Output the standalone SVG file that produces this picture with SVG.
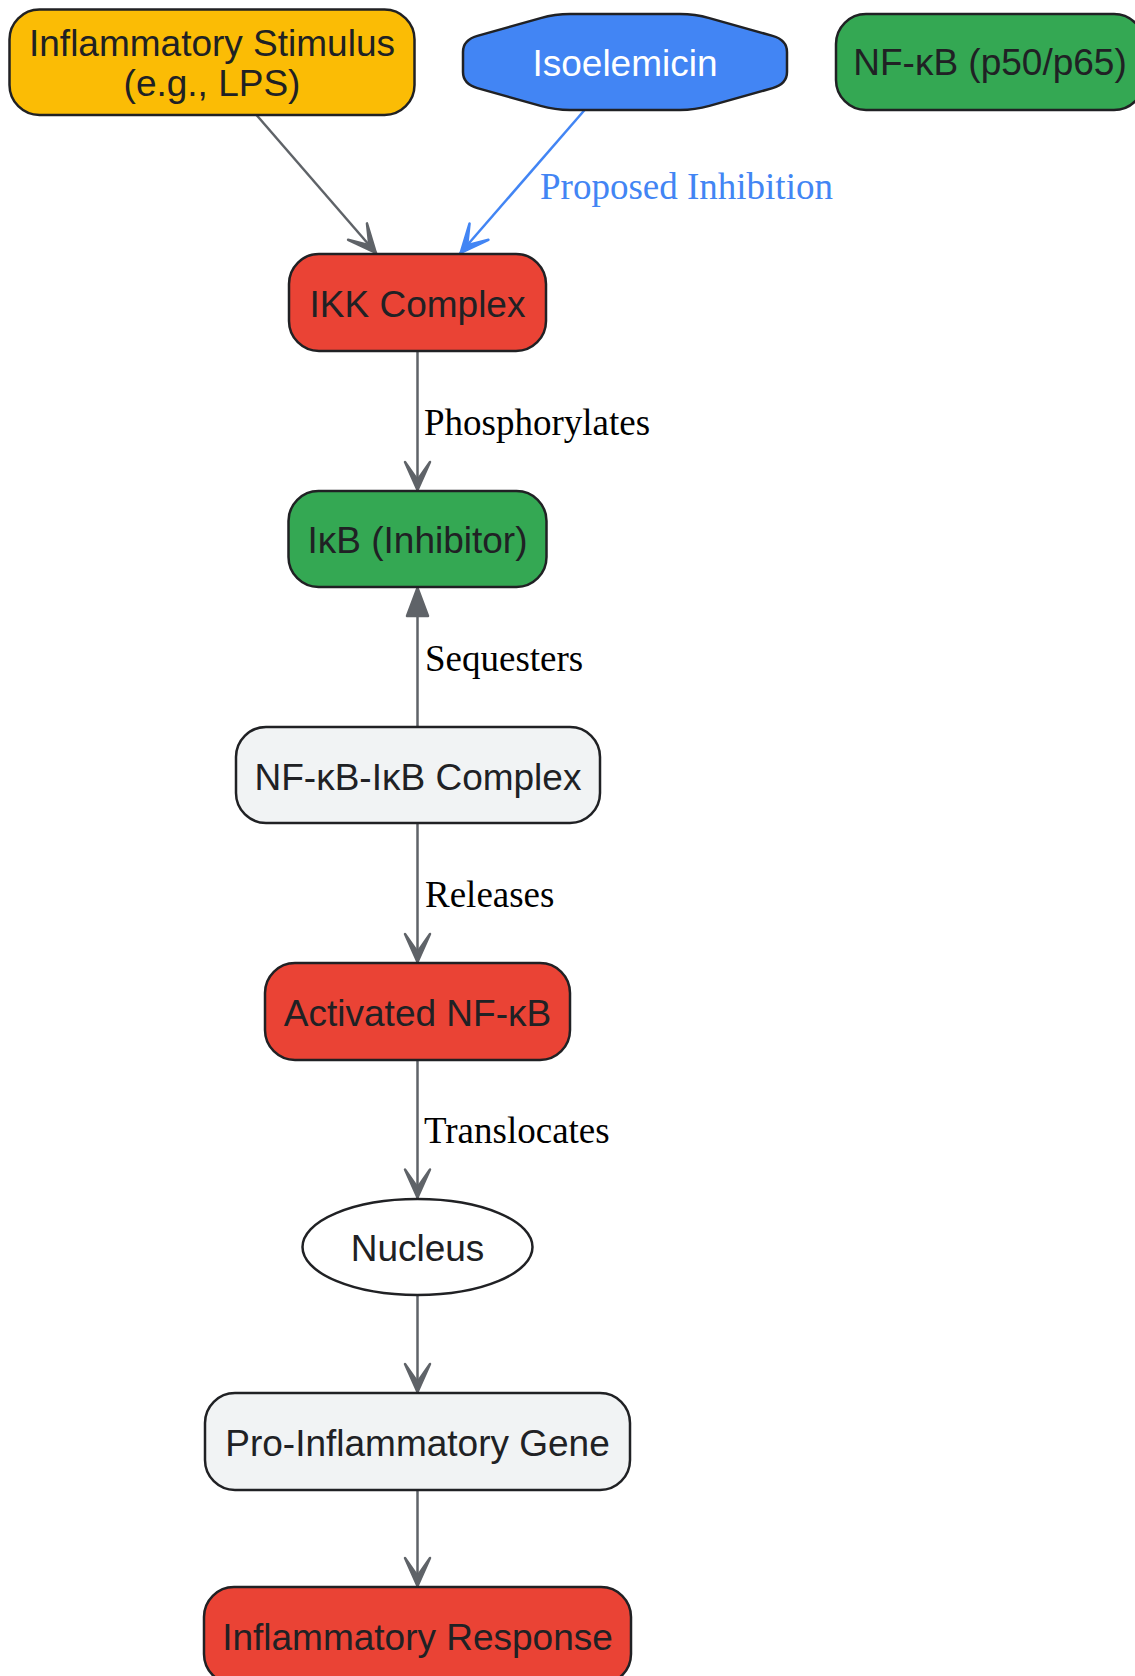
<svg xmlns="http://www.w3.org/2000/svg" width="1135" height="1676" viewBox="0 0 1135 1676">
<style>
  .node { stroke: #202124; stroke-width: 2.5; }
  .lbl { font-family: "Liberation Sans", Arial, sans-serif; font-size: 37px; fill: #202124; text-anchor: middle; }
  .elbl { font-family: "Liberation Serif", "Times New Roman", serif; font-size: 37px; fill: #000000; }
  .edge { stroke: #5F6368; stroke-width: 2.5; fill: none; }
  .edge-blue { stroke: #4285F4; stroke-width: 2.5; fill: none; }
</style>
<defs>
  <marker id="vee" viewBox="-32 -16 34 32" refX="0" refY="0" markerWidth="34" markerHeight="32" markerUnits="userSpaceOnUse" orient="auto">
    <path d="M-1,0 L-29,-12.5 L-11,0 L-29,12.5 Z" fill="#5F6368" stroke="#5F6368" stroke-width="2.5" stroke-linejoin="round"/>
  </marker>
  <marker id="vee-blue" viewBox="-32 -16 34 32" refX="0" refY="0" markerWidth="34" markerHeight="32" markerUnits="userSpaceOnUse" orient="auto">
    <path d="M-1,0 L-29,-12.5 L-11,0 L-29,12.5 Z" fill="#4285F4" stroke="#4285F4" stroke-width="2.5" stroke-linejoin="round"/>
  </marker>
  <marker id="tri" viewBox="-32 -14 34 28" refX="0" refY="0" markerWidth="34" markerHeight="28" markerUnits="userSpaceOnUse" orient="auto">
    <path d="M-1,0 L-29,-10.5 L-29,10.5 Z" fill="#5F6368" stroke="#5F6368" stroke-width="2.5" stroke-linejoin="round"/>
  </marker>
</defs>
<rect x="0" y="0" width="1135" height="1676" fill="#FFFFFF"/>

<g id="edges">
  <line class="edge" x1="256.5" y1="115" x2="376.5" y2="253.5" marker-end="url(#vee)"/>
  <line class="edge-blue" x1="584.6" y1="110" x2="460" y2="253.5" marker-end="url(#vee-blue)"/>
  <text class="elbl" x="540" y="199" style="fill:#4285F4">Proposed Inhibition</text>
  <line class="edge" x1="417.5" y1="351" x2="417.5" y2="491" marker-end="url(#vee)"/>
  <text class="elbl" x="424" y="435">Phosphorylates</text>
  <line class="edge" x1="417.5" y1="727" x2="417.5" y2="587" marker-end="url(#tri)"/>
  <text class="elbl" x="425" y="671">Sequesters</text>
  <line class="edge" x1="417.5" y1="823" x2="417.5" y2="963" marker-end="url(#vee)"/>
  <text class="elbl" x="425" y="907">Releases</text>
  <line class="edge" x1="417.5" y1="1060" x2="417.5" y2="1198.5" marker-end="url(#vee)"/>
  <text class="elbl" x="424" y="1142.5">Translocates</text>
  <line class="edge" x1="417.5" y1="1295" x2="417.5" y2="1393" marker-end="url(#vee)"/>
  <line class="edge" x1="417.5" y1="1490" x2="417.5" y2="1587" marker-end="url(#vee)"/>
</g>

<g id="stimulus">
  <rect class="node" x="9.5" y="9.5" width="405" height="105.5" rx="30" fill="#FBBC05"/>
  <text class="lbl" x="212" y="55.5">Inflammatory Stimulus</text>
  <text class="lbl" x="212" y="96">(e.g., LPS)</text>
</g>

<g id="isoelemicin">
  <path class="node" d="M477.4,35.9 L540.6,18.1 Q555,14 570,14 L680,14 Q695,14 709.4,18.1 L772.6,35.9 Q787,40 787,52 L787,72 Q787,84 772.6,88.1 L709.4,105.9 Q695,110 680,110 L570,110 Q555,110 540.6,105.9 L477.4,88.1 Q463,84 463,72 L463,52 Q463,40 477.4,35.9 Z" fill="#4285F4"/>
  <text class="lbl" x="625" y="76" style="fill:#FFFFFF">Isoelemicin</text>
</g>

<g id="nfkb">
  <rect class="node" x="836" y="14" width="308" height="96" rx="30" fill="#34A853"/>
  <text class="lbl" x="990" y="75">NF-κB (p50/p65)</text>
</g>

<g id="ikk">
  <rect class="node" x="289" y="254" width="257" height="97" rx="30" fill="#EA4335"/>
  <text class="lbl" x="417.5" y="317">IKK Complex</text>
</g>

<g id="ikb">
  <rect class="node" x="288.5" y="491" width="258" height="96" rx="30" fill="#34A853"/>
  <text class="lbl" x="417.5" y="553">IκB (Inhibitor)</text>
</g>

<g id="complex">
  <rect class="node" x="236" y="727" width="364" height="96" rx="30" fill="#F1F3F4"/>
  <text class="lbl" x="418" y="790">NF-κB-IκB Complex</text>
</g>

<g id="activated">
  <rect class="node" x="265" y="963" width="305" height="97" rx="30" fill="#EA4335"/>
  <text class="lbl" x="417.5" y="1025.5">Activated NF-κB</text>
</g>

<g id="nucleus">
  <ellipse class="node" cx="417.5" cy="1247" rx="115" ry="48" fill="#FFFFFF"/>
  <text class="lbl" x="417.5" y="1261">Nucleus</text>
</g>

<g id="gene">
  <rect class="node" x="205" y="1393" width="425" height="97" rx="30" fill="#F1F3F4"/>
  <text class="lbl" x="417.5" y="1455.5">Pro-Inflammatory Gene</text>
</g>

<g id="response">
  <rect class="node" x="204" y="1587" width="427" height="97" rx="30" fill="#EA4335"/>
  <text class="lbl" x="417.5" y="1650">Inflammatory Response</text>
</g>
</svg>
